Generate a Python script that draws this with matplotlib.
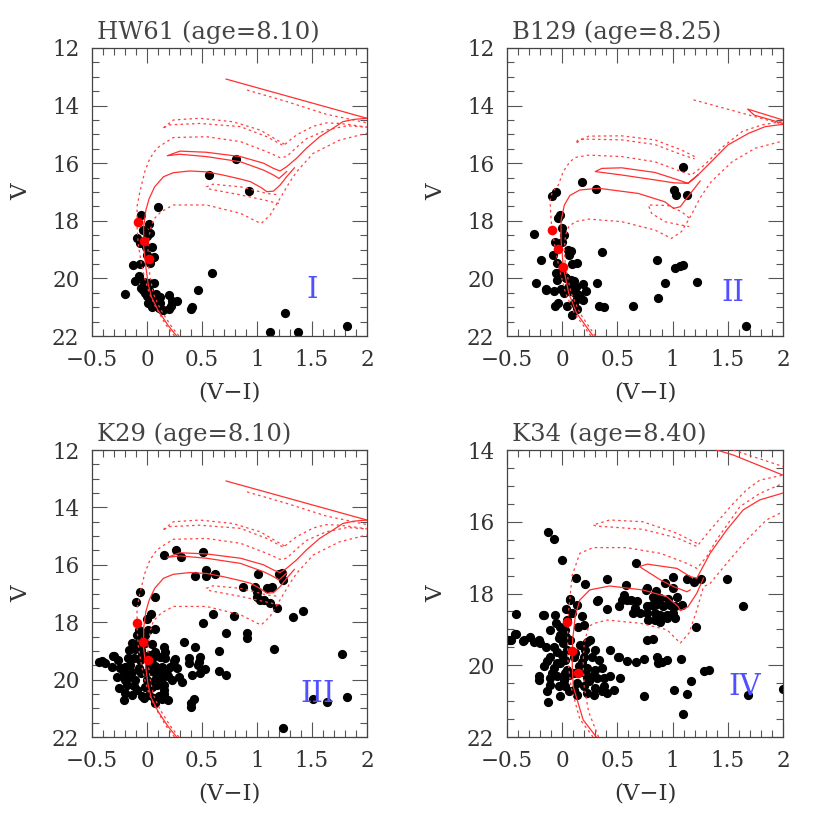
"""Colour-magnitude diagrams of four SMC clusters with fitted isochrones
"""
import matplotlib
matplotlib.use('Agg')
import matplotlib.pyplot as plt
from matplotlib.ticker import MultipleLocator, FuncFormatter

# ---------------------------------------------------------------- stars (V-I, V)
hw61_stars = [
    (0.81, 15.87), (0.566, 16.41), (0.924, 16.97), (0.588, 19.82), (0.467, 20.40),
    (0.406, 20.98), (0.40, 21.07), (1.255, 21.19), (1.118, 21.87), (1.375, 21.86),
    (1.815, 21.65), (0.10, 17.53), (-0.05, 17.81), (0.02, 18.11), (-0.04, 18.32),
    (0.03, 18.41), (-0.09, 18.59), (0.0, 18.53), (-0.06, 18.78), (-0.01, 18.90),
    (0.05, 18.90), (0.0, 19.19), (0.06, 19.26), (0.03, 19.48), (-0.06, 19.50),
    (-0.13, 19.55), (-0.07, 19.92), (-0.11, 20.08), (-0.03, 20.14), (0.02, 20.15),
    (0.06, 20.15), (-0.05, 20.35), (-0.02, 20.50), (0.02, 20.40), (0.08, 20.55),
    (-0.20, 20.53), (0.12, 20.63), (0.20, 20.59), (0.0, 20.60), (0.04, 20.67),
    (0.12, 20.87), (0.23, 20.77), (0.27, 20.80), (0.01, 20.84), (0.15, 21.10),
    (0.20, 21.06), (0.22, 20.96), (0.14, 21.10), (0.08, 20.75), (-0.04, 20.40),
    (0.11, 21.04), (0.05, 20.98),
]
b129_stars = [
    (-0.017, 17.80), (-0.038, 17.91), (-0.002, 18.26), (-0.258, 18.46), (-0.062, 18.72),
    (-0.002, 18.72), (0.05, 19.01), (0.08, 19.04), (-0.083, 19.19), (0.059, 19.19),
    (-0.192, 19.36), (-0.047, 19.48), (0.089, 19.50), (0.134, 19.48), (-0.008, 19.77),
    (-0.053, 19.82), (0.037, 20.0), (0.08, 20.06), (0.104, 20.08), (-0.047, 20.06),
    (-0.234, 20.17), (0.315, 20.17), (0.059, 20.26), (0.128, 20.31), (0.188, 20.19),
    (-0.144, 20.40), (-0.077, 20.43), (-0.011, 20.38), (0.074, 20.43), (0.216, 20.43),
    (0.149, 20.58), (0.134, 20.73), (0.188, 20.75), (0.104, 20.87), (-0.041, 20.87),
    (-0.062, 20.96), (0.043, 20.96), (0.134, 21.07), (0.089, 21.27), (0.33, 20.96),
    (0.376, 21.0), (0.641, 20.96), (0.357, 19.07), (0.859, 19.36), (0.865, 20.67),
    (0.934, 20.15), (0.013, 18.49), (0.028, 19.94), (0.119, 20.52), (0.164, 20.63),
    (0.013, 20.52), (0.177, 16.66), (0.306, 16.91), (-0.095, 17.13), (-0.056, 17.01),
    (1.091, 16.12), (1.013, 16.93), (1.031, 17.12), (1.133, 17.12), (1.022, 19.63),
    (1.067, 19.57), (1.097, 19.55), (1.218, 20.11), (-0.147, 20.38), (1.665, 21.64),
]
k29_stars = [
    (0.155, 15.66), (0.264, 15.48), (0.306, 15.72), (0.512, 15.57), (0.437, 16.39),
    (0.537, 16.18), (0.537, 16.39), (0.618, 16.33), (1.012, 16.33), (1.203, 16.33),
    (1.224, 16.27), (1.24, 16.53), (0.876, 16.76), (0.982, 16.79), (0.997, 16.94),
    (1.088, 16.82), (1.134, 16.76), (0.997, 17.11), (1.027, 17.23), (1.064, 17.23),
    (1.118, 17.32), (1.185, 17.52), (1.33, 17.81), (1.415, 17.60), (0.597, 17.71),
    (0.794, 17.77), (0.512, 18.02), (0.718, 18.37), (0.906, 18.39), (0.912, 18.56),
    (1.155, 18.93), (0.658, 19.0), (0.337, 18.69), (0.437, 18.88), (1.77, 19.12),
    (1.815, 20.60), (1.512, 20.69), (1.64, 20.79), (1.233, 21.68), (-0.063, 16.94),
    (-0.10, 17.29), (0.073, 17.11), (0.033, 17.73), (0.0, 17.90), (0.076, 18.25),
    (0.009, 18.27), (-0.076, 18.27), (-0.021, 18.46), (-0.091, 18.46), (-0.136, 18.74),
    (-0.076, 18.68), (-0.015, 18.74), (0.045, 18.76), (0.152, 18.85), (0.161, 19.02),
    (-0.167, 18.97), (-0.106, 18.95), (-0.052, 18.97), (0.015, 19.14), (0.076, 19.03),
    (-0.312, 19.18), (-0.30, 19.18), (-0.439, 19.38), (-0.409, 19.34), (-0.264, 19.32),
    (-0.173, 19.26), (-0.121, 19.26), (-0.061, 19.32), (0.03, 19.26), (0.121, 19.20),
    (0.167, 19.26), (0.242, 19.34), (0.258, 19.29), (0.379, 19.26), (0.485, 19.22),
    (0.476, 19.38), (0.379, 19.43), (0.464, 19.49), (0.524, 19.62), (0.652, 19.70),
    (0.718, 19.84), (0.409, 19.84), (0.479, 19.78), (-0.318, 19.55), (-0.242, 19.61),
    (-0.197, 19.55), (-0.152, 19.49), (-0.076, 19.61), (0.015, 19.55), (0.076, 19.53),
    (0.136, 19.55), (0.212, 19.55), (0.273, 19.61), (-0.273, 19.90), (-0.212, 19.78),
    (-0.136, 19.72), (-0.052, 19.78), (0.0, 19.72), (0.061, 19.72), (0.121, 19.78),
    (0.191, 19.87), (0.294, 19.90), (0.318, 20.07), (-0.197, 20.01), (-0.106, 20.01),
    (0.0, 20.01), (0.076, 20.01), (0.136, 19.96), (-0.182, 20.19), (-0.121, 20.22),
    (-0.015, 20.25), (0.091, 20.19), (0.152, 20.19), (-0.258, 20.30), (-0.197, 20.48),
    (-0.136, 20.54), (-0.045, 20.57), (0.015, 20.54), (0.106, 20.57), (0.152, 20.50),
    (-0.212, 20.71), (-0.03, 20.65), (0.061, 20.63), (0.136, 20.69), (0.191, 20.71),
    (0.427, 20.69), (0.403, 20.80), (0.397, 20.97), (-0.379, 19.43), (0.076, 20.83),
    (0.152, 20.36), (0.045, 20.25), (0.106, 19.66), (0.182, 19.66), (0.227, 20.01),
    (-0.091, 20.36), (-0.167, 19.90), (0.045, 19.29), (-0.045, 19.14),
]
k34_stars = [
    (-0.131, 16.29), (-0.074, 16.48), (0.002, 17.06), (0.125, 17.56), (0.207, 17.74),
    (0.409, 17.60), (0.666, 17.14), (0.578, 17.76), (0.322, 18.19), (0.403, 18.44),
    (1.007, 17.55), (1.134, 17.60), (1.194, 17.67), (1.255, 17.59), (1.496, 17.59),
    (1.641, 18.36), (1.212, 18.94), (-0.418, 18.58), (-0.17, 18.61), (-0.065, 18.60),
    (0.071, 18.18), (-0.421, 19.12), (-0.488, 19.29), (-0.352, 19.31), (0.766, 19.29),
    (0.826, 19.27), (0.509, 19.77), (0.584, 19.88), (0.666, 19.92), (0.741, 19.83),
    (0.856, 19.76), (0.901, 19.90), (0.947, 19.85), (0.871, 19.94), (1.074, 19.82),
    (1.285, 20.15), (1.333, 20.13), (1.164, 20.45), (1.013, 20.68), (1.134, 20.80),
    (0.744, 20.87), (1.092, 21.35), (1.686, 20.82), (1.998, 20.66), (-0.131, 21.03),
    (0.771, 17.85), (0.759, 17.90), (0.847, 17.92), (0.928, 17.70), (1.001, 17.85),
    (0.56, 18.04), (0.584, 18.18), (0.545, 18.18), (0.623, 18.18), (0.68, 18.21),
    (0.825, 18.09), (0.856, 18.09), (0.886, 18.13), (0.961, 18.16), (1.043, 18.11),
    (0.071, 18.16), (0.312, 18.20), (0.765, 18.36), (0.81, 18.32), (0.856, 18.29),
    (0.916, 18.36), (0.976, 18.32), (1.022, 18.36), (1.082, 18.32), (0.517, 18.36),
    (0.638, 18.54), (0.705, 18.55), (0.771, 18.53), (0.84, 18.53), (0.886, 18.60),
    (0.946, 18.60), (1.007, 18.55), (0.031, 18.42), (0.131, 18.33), (0.659, 18.41),
    (0.84, 18.74), (0.774, 18.74), (0.886, 18.80), (0.946, 18.69), (1.022, 18.69),
    (-0.162, 18.61), (-0.053, 18.83), (-0.017, 18.92), (0.028, 19.01), (-0.114, 19.01),
    (-0.017, 19.15), (0.037, 19.20), (0.179, 18.64), (0.194, 18.87), (0.14, 18.92),
    (0.225, 19.34), (0.30, 19.57), (-0.425, 19.13), (-0.349, 19.29), (-0.295, 19.22),
    (-0.258, 19.34), (-0.213, 19.29), (-0.198, 19.39), (-0.144, 19.50), (-0.077, 19.50),
    (0.007, 19.37), (-0.047, 19.62), (-0.002, 19.71), (0.043, 19.57), (0.158, 19.43),
    (0.21, 19.57), (0.27, 19.76), (0.33, 19.85), (0.43, 19.57), (0.511, 19.78),
    (-0.138, 19.87), (-0.077, 20.08), (-0.017, 19.94), (0.028, 19.85), (0.043, 20.13),
    (0.179, 19.90), (0.225, 20.08), (0.30, 20.13), (0.361, 20.08), (-0.213, 20.31),
    (-0.213, 20.41), (-0.107, 20.36), (-0.047, 20.31), (0.013, 20.41), (0.059, 20.27),
    (0.225, 20.36), (0.27, 20.31), (0.315, 20.36), (0.376, 20.36), (0.521, 20.36),
    (-0.107, 20.55), (-0.032, 20.59), (0.028, 20.59), (0.134, 20.50), (0.194, 20.59),
    (0.30, 20.64), (0.376, 20.59), (-0.138, 20.73), (-0.017, 20.87), (0.059, 20.73),
    (0.134, 20.82), (0.225, 20.78), (0.285, 20.82), (0.361, 20.73), (0.406, 20.78),
    (0.466, 20.69), (0.104, 19.76), (0.149, 20.03), (0.104, 20.22), (-0.047, 19.94),
    (-0.168, 20.03), (-0.092, 20.22), (0.104, 20.69), (0.436, 20.31), (0.074, 19.29),
    (0.119, 19.66), (0.194, 19.76), (0.255, 19.29), (0.089, 18.55), (0.043, 18.74),
    (0.21, 20.22), (0.24, 20.45), (0.028, 20.22), (-0.032, 19.25), (-0.107, 19.76),
    (-0.476, 19.29), (-0.464, 19.29),
]

# red points on the main sequence
hw61_red = [(-0.08, 18.03), (-0.03, 18.70), (0.02, 19.33)]
b129_red = [(-0.09, 18.33), (-0.04, 18.98), (0.01, 19.59)]
k29_red = [(-0.09, 18.02), (-0.04, 18.69), (0.006, 19.32)]
k34_red = [(0.043, 18.80), (0.089, 19.60), (0.14, 20.22)]

# ---------------------------------------------------------------- isochrones
# each segment is (colours, magnitudes)
iso810_solid = [
    ([0.27, 0.19, 0.10, 0.04, 0.01, -0.01, -0.03, -0.03, -0.01, 0.02, 0.07, 0.15, 0.24,
      0.39, 0.54, 0.69, 0.85, 0.94, 1.04, 1.09, 1.15, 1.21, 1.27, 1.34],
     [22.0, 21.62, 21.1, 20.64, 20.17, 19.6, 18.9, 18.2, 17.63, 17.23, 16.82, 16.47, 16.33,
      16.27, 16.3, 16.41, 16.55, 16.64, 16.85, 16.99, 16.97, 16.76, 16.47, 16.16]),
    ([1.27, 1.20, 1.15, 1.06, 0.85, 0.54, 0.30, 0.185, 0.30, 0.54, 0.85, 1.06, 1.15, 1.21,
      1.27, 1.36, 1.45, 1.57, 1.69, 1.78, 1.88, 2.0],
     [16.29, 16.53, 16.41, 16.24, 15.95, 15.77, 15.69, 15.74, 15.58, 15.62, 15.77, 16.0,
      16.18, 16.27, 16.12, 15.83, 15.48, 15.08, 14.79, 14.56, 14.48, 14.44]),
    ([2.0, 0.72], [14.44, 13.08]),
]
iso810_dotted = [
    ([0.25, 0.17, 0.08, 0.02, -0.02, -0.05, -0.08, -0.09, -0.09, -0.064, -0.02, 0.027, 0.09,
      0.16, 0.24, 0.54, 0.85, 1.09, 1.21, 1.27, 1.36, 1.45, 1.63, 1.82, 2.0],
     [22.0, 21.6, 21.0, 20.5, 20.0, 19.5, 18.8, 18.2, 17.5, 16.99, 16.3, 15.83, 15.48,
      15.3, 15.11, 15.08, 15.25, 15.6, 15.81, 15.77, 15.45, 15.15, 14.85, 14.7, 14.75]),
    ([1.25, 1.18, 1.03, 0.78, 0.48, 0.24, 0.14, 0.20, 0.48, 0.85, 1.09, 1.24, 1.30, 1.36,
      1.51, 1.63, 1.75, 1.88, 2.0],
     [15.34, 15.19, 14.85, 14.56, 14.44, 14.5, 14.8, 14.67, 14.62, 14.73, 15.08, 15.39,
      15.2, 15.02, 14.72, 14.6, 14.62, 14.68, 14.75]),
    ([0.91, 1.27, 1.63, 1.88, 2.0], [13.46, 13.86, 14.3, 14.5, 14.6]),
    ([0.29, 0.21, 0.12, 0.06, 0.03, 0.01, 0.01, 0.03, 0.06, 0.13, 0.24, 0.54, 0.85, 1.0,
      1.04, 1.12, 1.21, 1.30, 1.36, 1.51, 1.75, 2.0],
     [22.0, 21.6, 21.05, 20.55, 20.0, 19.4, 18.8, 18.3, 17.95, 17.68, 17.45, 17.45, 17.74,
      18.03, 18.09, 17.8, 17.22, 16.64, 16.3, 15.66, 15.2, 14.96]),
    ([1.2, 1.09, 0.85, 0.57, 0.54, 0.60, 0.85, 1.09, 1.2],
     [17.4, 17.3, 17.1, 16.9, 16.82, 16.73, 16.82, 17.05, 17.1]),
]

iso825_solid = [
    ([0.28, 0.13, 0.06, 0.01, -0.01, -0.01, 0.02, 0.07, 0.16, 0.33, 0.69, 0.93, 1.01, 1.07,
      1.14, 1.25],
     [22.0, 21.2, 20.52, 19.59, 18.67, 18.0, 17.45, 17.12, 16.93, 16.87, 17.05, 17.34,
      17.57, 17.51, 17.16, 16.62]),
    ([1.23, 1.14, 1.01, 0.84, 0.54, 0.30, 0.36, 0.54, 0.84, 1.05, 1.14, 1.23, 1.35, 1.5,
      1.69, 1.84, 2.0],
     [16.41, 16.7, 16.68, 16.58, 16.41, 16.29, 16.18, 16.16, 16.32, 16.58, 16.7, 16.41,
      15.95, 15.37, 14.96, 14.73, 14.65]),
    ([2.0, 1.68, 1.74, 2.0], [14.5, 14.12, 14.33, 14.62]),
]
iso825_dotted = [
    ([0.26, 0.11, 0.03, -0.03, -0.07, -0.10, -0.11, -0.09, -0.035, 0.01, 0.07, 0.12, 0.24,
      0.54, 0.84, 1.08, 1.17, 1.29, 1.44, 1.63, 1.81, 2.0],
     [22.0, 21.2, 20.5, 19.6, 18.8, 18.0, 17.3, 17.0, 16.76, 16.29, 15.95, 15.8, 15.72,
      15.77, 15.95, 16.29, 16.41, 16.06, 15.48, 14.9, 14.67, 14.55]),
    ([1.2, 1.08, 0.84, 0.54, 0.24, 0.12, 0.15, 0.54, 0.84, 1.08, 1.2],
     [15.77, 15.54, 15.19, 15.05, 15.06, 15.31, 15.16, 15.19, 15.35, 15.7, 15.85]),
    ([1.19, 2.0], [13.8, 14.65]),
    ([0.30, 0.16, 0.08, 0.03, 0.02, 0.03, 0.06, 0.12, 0.24, 0.54, 0.84, 0.99, 1.08, 1.17,
      1.25, 1.35, 1.54, 1.75, 2.0],
     [22.0, 21.2, 20.5, 19.6, 19.0, 18.5, 18.2, 18.03, 17.94, 18.03, 18.32, 18.61, 18.38,
      17.8, 17.2, 16.64, 15.95, 15.48, 15.23]),
    ([1.15, 1.08, 0.96, 0.78, 0.81, 0.93, 1.08, 1.15],
     [17.9, 17.68, 17.47, 17.45, 17.74, 18.03, 18.15, 18.2]),
]

iso840_solid = [
    ([0.31, 0.19, 0.10, 0.09, 0.095, 0.12, 0.16, 0.25, 0.43, 0.73, 0.95, 1.05, 1.07, 1.14,
      1.22, 1.28],
     [22.0, 21.52, 20.59, 19.85, 19.29, 18.6, 18.18, 17.9, 17.79, 17.9, 18.09, 18.36,
      18.48, 18.37, 17.99, 17.57]),
    ([1.16, 1.13, 1.01, 0.89, 0.70, 0.77, 1.04, 1.16, 1.22, 1.34, 1.49, 1.64, 1.79, 2.0],
     [17.9, 17.95, 17.81, 17.62, 17.25, 17.18, 17.3, 17.53, 17.57, 16.88, 16.23, 15.67,
      15.39, 15.2]),
    ([1.40, 1.55, 2.0], [14.0, 14.14, 14.7]),
]
iso840_dotted = [
    ([0.28, 0.16, 0.08, 0.05, 0.05, 0.06, 0.09, 0.16, 0.28, 0.58, 0.89, 1.13, 1.22, 1.31,
      1.40, 1.61, 1.79, 2.0],
     [22.0, 21.5, 20.6, 19.8, 19.0, 18.46, 17.5, 16.88, 16.72, 16.72, 16.88, 17.16, 17.3,
      16.97, 16.5, 15.58, 15.21, 14.93]),
    ([1.22, 1.04, 0.73, 0.43, 0.28, 0.31, 0.73, 1.04, 1.22, 1.34, 1.55, 1.67, 1.79, 2.0],
     [16.6, 16.32, 16.0, 15.95, 16.09, 16.12, 16.21, 16.45, 16.69, 16.23, 15.49, 15.11,
      14.84, 14.7]),
    ([1.55, 2.0], [14.0, 14.46]),
    ([0.33, 0.24, 0.20, 0.19, 0.20, 0.24, 0.29, 0.41, 0.71, 0.95, 1.04, 1.07, 1.15, 1.22,
      1.28, 1.34, 1.49, 1.67, 1.85, 2.0],
     [22.0, 21.3, 20.6, 19.9, 19.38, 18.92, 18.83, 18.74, 18.83, 19.01, 19.29, 19.38,
      19.1, 18.46, 17.81, 17.72, 17.16, 16.51, 15.95, 15.72]),
]

panel_titles = ['HW61 (age=8.10)', 'B129 (age=8.25)', 'K29 (age=8.10)', 'K34 (age=8.40)']
panel_numerals = ['I', 'II', 'III', 'IV']
numeral_pos = [(1.5, 20.4), (1.55, 20.5), (1.55, 20.5), (1.65, 20.6)]
v_limits = [(22, 12), (22, 12), (22, 12), (22, 14)]


def fmt_colour(val, pos):
    return '{:g}'.format(val).replace('-', '\u2212')


def draw_panel(ax, stars, red, solid, dotted, title, numeral, npos, vlim):
    ax.set_xlim(-0.5, 2)
    ax.set_ylim(*vlim)

    sx, sv = zip(*stars)
    ax.scatter(sx, sv, s=44, color='black', linewidths=0, zorder=2)

    for xs, vs in dotted:
        ax.plot(xs, vs, color='#ff4040', lw=0.9, ls=(0, (2.0, 2.6)), zorder=3)
    for xs, vs in solid:
        ax.plot(xs, vs, color='#ff3030', lw=0.9, zorder=3)

    rx, rv = zip(*red)
    ax.scatter(rx, rv, s=48, color='red', linewidths=0, zorder=4)

    ax.text(npos[0], npos[1], numeral, color='#5050ff', fontsize=21,
            ha='center', va='center')
    ax.text(0.02, 1.015, title, transform=ax.transAxes, fontsize=17.5,
            color='#444444', ha='left', va='bottom')

    ax.xaxis.set_major_locator(MultipleLocator(0.5))
    ax.xaxis.set_minor_locator(MultipleLocator(0.1))
    ax.xaxis.set_major_formatter(FuncFormatter(fmt_colour))
    ax.yaxis.set_major_locator(MultipleLocator(2))
    ax.yaxis.set_minor_locator(MultipleLocator(0.5))
    ax.tick_params(which='both', direction='in', top=True, right=True,
                   colors='#555555', labelcolor='#333333', width=0.8)
    ax.tick_params(which='major', length=11, labelsize=15.5, pad=9)
    ax.tick_params(which='minor', length=5)
    for sp in ax.spines.values():
        sp.set_color('#444444')
        sp.set_linewidth(0.9)

    ax.set_xlabel('(V\u2212I)', fontsize=16.5, color='#333333', labelpad=8)
    ax.set_ylabel('V', fontsize=16.5, color='#333333', labelpad=14)


def main():
    plt.rcParams['font.family'] = ['DejaVu Serif']
    fig = plt.figure(figsize=(8.3, 8.26), dpi=100)

    boxes = [
        [0.1108, 0.5932, 0.3313, 0.3487],
        [0.6108, 0.5932, 0.3325, 0.3487],
        [0.1108, 0.1077, 0.3313, 0.3475],
        [0.6108, 0.1077, 0.3325, 0.3475],
    ]
    stars = [hw61_stars, b129_stars, k29_stars, k34_stars]
    reds = [hw61_red, b129_red, k29_red, k34_red]
    solids = [iso810_solid, iso825_solid, iso810_solid, iso840_solid]
    dotteds = [iso810_dotted, iso825_dotted, iso810_dotted, iso840_dotted]

    for i in range(4):
        ax = fig.add_axes(boxes[i])
        draw_panel(ax, stars[i], reds[i], solids[i], dotteds[i], panel_titles[i],
                   panel_numerals[i], numeral_pos[i], v_limits[i])

    fig.savefig('out.png', dpi=100)
    plt.close()


if __name__ == '__main__':
    main()
